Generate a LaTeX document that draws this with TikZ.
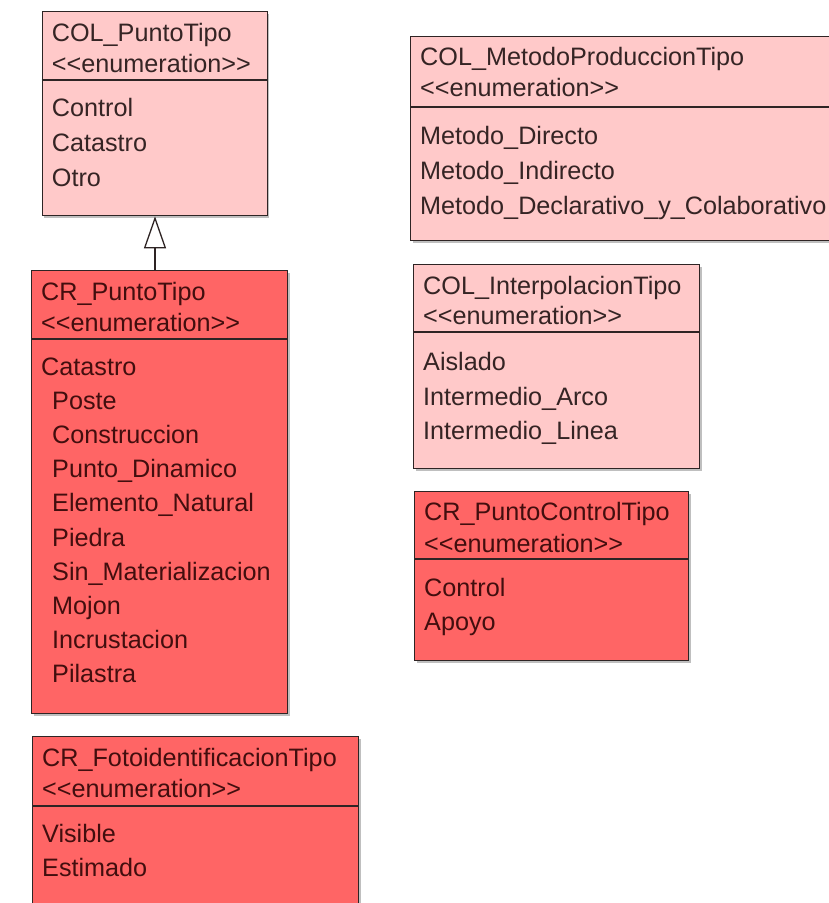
\documentclass[tikz,border=0pt]{standalone}
\usepackage{fontspec}
\newfontfamily\umlfont{Liberation Sans}
\usetikzlibrary{arrows.meta,shadows}
\definecolor{colfill}{HTML}{FFC9C9}
\definecolor{crfill}{HTML}{FF6565}
\definecolor{bordercol}{HTML}{2E2424}
\definecolor{coltext}{HTML}{352424}
\definecolor{crtext}{HTML}{420E0E}
\newcommand\umlsize{\umlfont\fontsize{25.2pt}{30pt}\selectfont}
\newcommand\enumtag{\textless\textless enumeration\textgreater\textgreater}
\tikzset{
  umlbox/.style={draw=bordercol, line width=1.3pt, rectangle, inner sep=0pt, anchor=north west,
    drop shadow={shadow xshift=2pt, shadow yshift=-2pt, opacity=0.25, fill=black}},
  colbox/.style={umlbox, fill=colfill},
  crbox/.style={umlbox, fill=crfill},
  sepline/.style={draw=bordercol, line width=1.3pt},
  lbl/.style={anchor=base west, inner sep=0pt, font=\umlsize},
  coltxt/.style={lbl, text=coltext},
  crtxt/.style={lbl, text=crtext},
  genarrow/.style={draw=bordercol, line width=1.3pt, -{Triangle[open, length=32pt, width=22pt, fill=white]}},
}
\begin{document}
\begin{tikzpicture}[x=1pt,y=-1pt]
\useasboundingbox (0,0) rectangle (829,903);
\clip (0,0) rectangle (829,903);
\fill[white] (0,0) rectangle (829,903);

% COL_PuntoTipo
\node[colbox, minimum width=225pt, minimum height=204pt] (p1) at (41.7,11) {};
\draw[sepline] (p1.west |- 0,80) -- (p1.east |- 0,80);
\node[coltxt] (p1n) at (51.7,41) {COL\_PuntoTipo};
\node[coltxt] (p1e) at (51.7,72) {\enumtag};
\node[coltxt] (p1a) at (51.7,116) {Control};
\node[coltxt] (p1b) at (51.7,151) {Catastro};
\node[coltxt] (p1c) at (51.7,186) {Otro};

% CR_PuntoTipo
\node[crbox, minimum width=256pt, minimum height=443pt] (p2) at (31,270) {};
\draw[sepline] (p2.west |- 0,339) -- (p2.east |- 0,339);
\node[crtxt] (p2n) at (41,300) {CR\_PuntoTipo};
\node[crtxt] (p2e) at (41,331) {\enumtag};
\node[crtxt] (p2i0) at (41,375) {Catastro};
\node[crtxt] (p2i1) at (52,409) {Poste};
\node[crtxt] (p2i2) at (52,443.5) {Construccion};
\node[crtxt] (p2i3) at (52,477.5) {Punto\_Dinamico};
\node[crtxt] (p2i4) at (52,511.5) {Elemento\_Natural};
\node[crtxt] (p2i5) at (52,546) {Piedra};
\node[crtxt] (p2i6) at (52,580) {Sin\_Materializacion};
\node[crtxt] (p2i7) at (52,614) {Mojon};
\node[crtxt] (p2i8) at (52,648) {Incrustacion};
\node[crtxt] (p2i9) at (52,682) {Pilastra};

% generalization
\coordinate (ax) at (155,0);
\draw[genarrow] (p2.north -| ax) -- (p1.south -| ax);

% COL_MetodoProduccionTipo
\node[colbox, minimum width=440pt, minimum height=204pt] (m) at (410,36) {};
\draw[sepline] (m.west |- 0,107) -- (m.east |- 0,107);
\node[coltxt] (mn) at (420,65) {COL\_MetodoProduccionTipo};
\node[coltxt] (me) at (420,96) {\enumtag};
\node[coltxt] (ma) at (420,144) {Metodo\_Directo};
\node[coltxt] (mb) at (420,179) {Metodo\_Indirecto};
\node[coltxt] (mc) at (420,214) {Metodo\_Declarativo\_y\_Colaborativo};

% COL_InterpolacionTipo
\node[colbox, minimum width=286pt, minimum height=204pt] (ip) at (413,264) {};
\draw[sepline] (ip.west |- 0,332) -- (ip.east |- 0,332);
\node[coltxt] (ipn) at (423,294) {COL\_InterpolacionTipo};
\node[coltxt] (ipe) at (423,324) {\enumtag};
\node[coltxt] (ipa) at (423,370) {Aislado};
\node[coltxt] (ipb) at (423,405) {Intermedio\_Arco};
\node[coltxt] (ipc) at (423,439) {Intermedio\_Linea};

% CR_PuntoControlTipo
\node[crbox, minimum width=274pt, minimum height=169pt] (pc) at (414,491) {};
\draw[sepline] (pc.west |- 0,559) -- (pc.east |- 0,559);
\node[crtxt] (pcn) at (424,520) {CR\_PuntoControlTipo};
\node[crtxt] (pce) at (424,552) {\enumtag};
\node[crtxt] (pca) at (424,596) {Control};
\node[crtxt] (pcb) at (424,630) {Apoyo};

% CR_FotoidentificacionTipo
\node[crbox, minimum width=326pt, minimum height=200pt] (f) at (32,736) {};
\draw[sepline] (f.west |- 0,806) -- (f.east |- 0,806);
\node[crtxt] (fn) at (42,766) {CR\_FotoidentificacionTipo};
\node[crtxt] (fe) at (42,797) {\enumtag};
\node[crtxt] (fa) at (42,842) {Visible};
\node[crtxt] (fb) at (42,876) {Estimado};
\end{tikzpicture}
\end{document}
